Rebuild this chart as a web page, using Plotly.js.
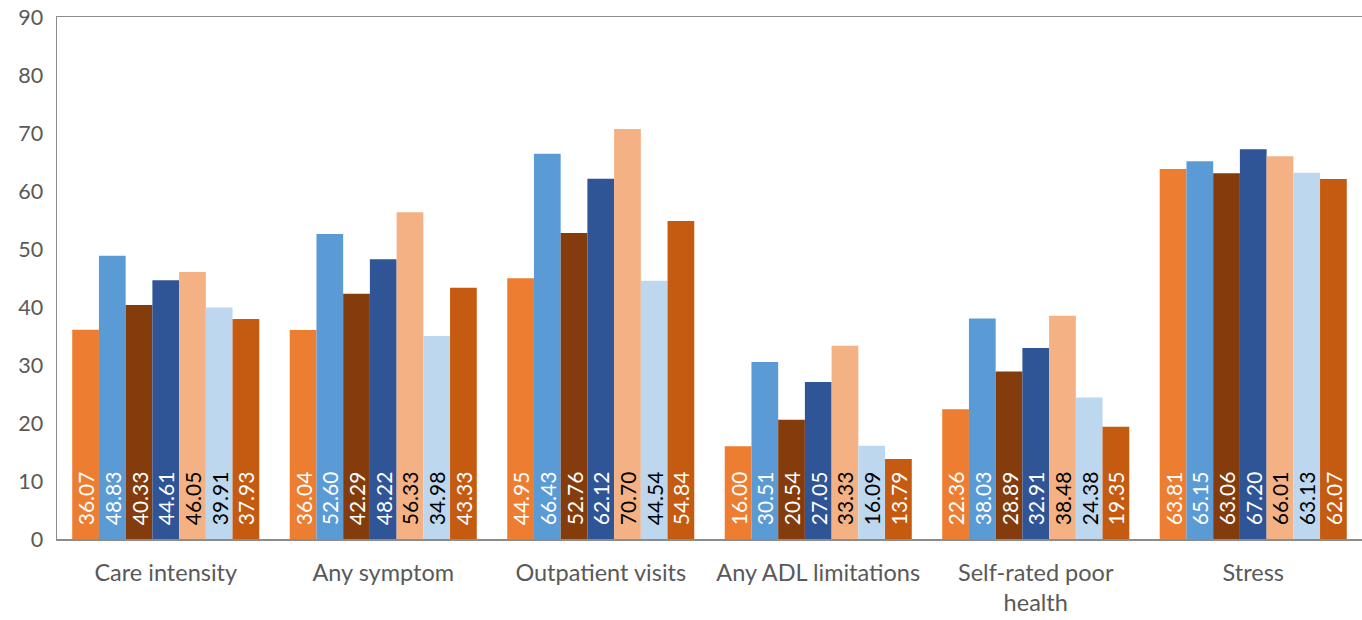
<!DOCTYPE html>
<html><head><meta charset="utf-8">
<script src="https://cdn.plot.ly/plotly-3.0.1.min.js"></script>
<style>html,body{margin:0;padding:0;background:#fff}#chart{width:1362px;height:620px}</style>
</head><body><div id="chart"></div>
<script>
const categories = ["Care intensity", "Any symptom", "Outpatient visits", "Any ADL limitations", "Self-rated poor<br>health", "Stress"];
const s1 = [36.07, 36.04, 44.95, 16.00, 22.36, 63.81];
const s2 = [48.83, 52.60, 66.43, 30.51, 38.03, 65.15];
const s3 = [40.33, 42.29, 52.76, 20.54, 28.89, 63.06];
const s4 = [44.61, 48.22, 62.12, 27.05, 32.91, 67.20];
const s5 = [46.05, 56.33, 70.70, 33.33, 38.48, 66.01];
const s6 = [39.91, 34.98, 44.54, 16.09, 24.38, 63.13];
const s7 = [37.93, 43.33, 54.84, 13.79, 19.35, 62.07];
const seriesValues = [s1, s2, s3, s4, s5, s6, s7];
const colors = ["#ED7D31", "#5B9BD5", "#843C0C", "#2F5597", "#F4B183", "#BDD7EE", "#C55A11"];
const textColors = ["#ffffff", "#ffffff", "#ffffff", "#ffffff", "#000000", "#000000", "#ffffff"];
const FONT = "Lato, 'Open Sans', sans-serif";
const traces = seriesValues.map((vals, i) => ({
  type: 'bar', x: categories, y: vals,
  marker: {color: colors[i], line: {width: 0}},
  text: vals.map(v => '\u00A0\u00A0' + v.toFixed(2)),
  textposition: 'inside', insidetextanchor: 'start', textangle: -90,
  constraintext: 'none',
  textfont: {family: FONT, size: 21, color: textColors[i]},
  cliponaxis: false, hoverinfo: 'none', showlegend: false
}));
const layout = {
  width: 1362, height: 620,
  margin: {l: 57, r: 0, t: 17, b: 81},
  paper_bgcolor: '#fff', plot_bgcolor: '#fff',
  barmode: 'group', bargap: 0.14, bargroupgap: 0,
  showlegend: false,
  font: {family: FONT, color: '#595959', size: 20},
  xaxis: {showline: true, linecolor: '#8c8c8c', linewidth: 1.5, mirror: true, ticks: '', showgrid: false,
          ticklabelstandoff: 12,
          tickfont: {family: FONT, size: 23.5, color: '#595959'}},
  yaxis: {range: [0, 90], dtick: 10, showline: true, linecolor: '#8c8c8c', linewidth: 1.5, mirror: true,
          showgrid: false, zeroline: false, ticks: '', ticklen: 0, ticklabelstandoff: 8,
          tickfont: {family: FONT, size: 21.5, color: '#595959'}}
};
Plotly.newPlot('chart', traces, layout, {displayModeBar: false, staticPlot: true});
</script></body></html>
